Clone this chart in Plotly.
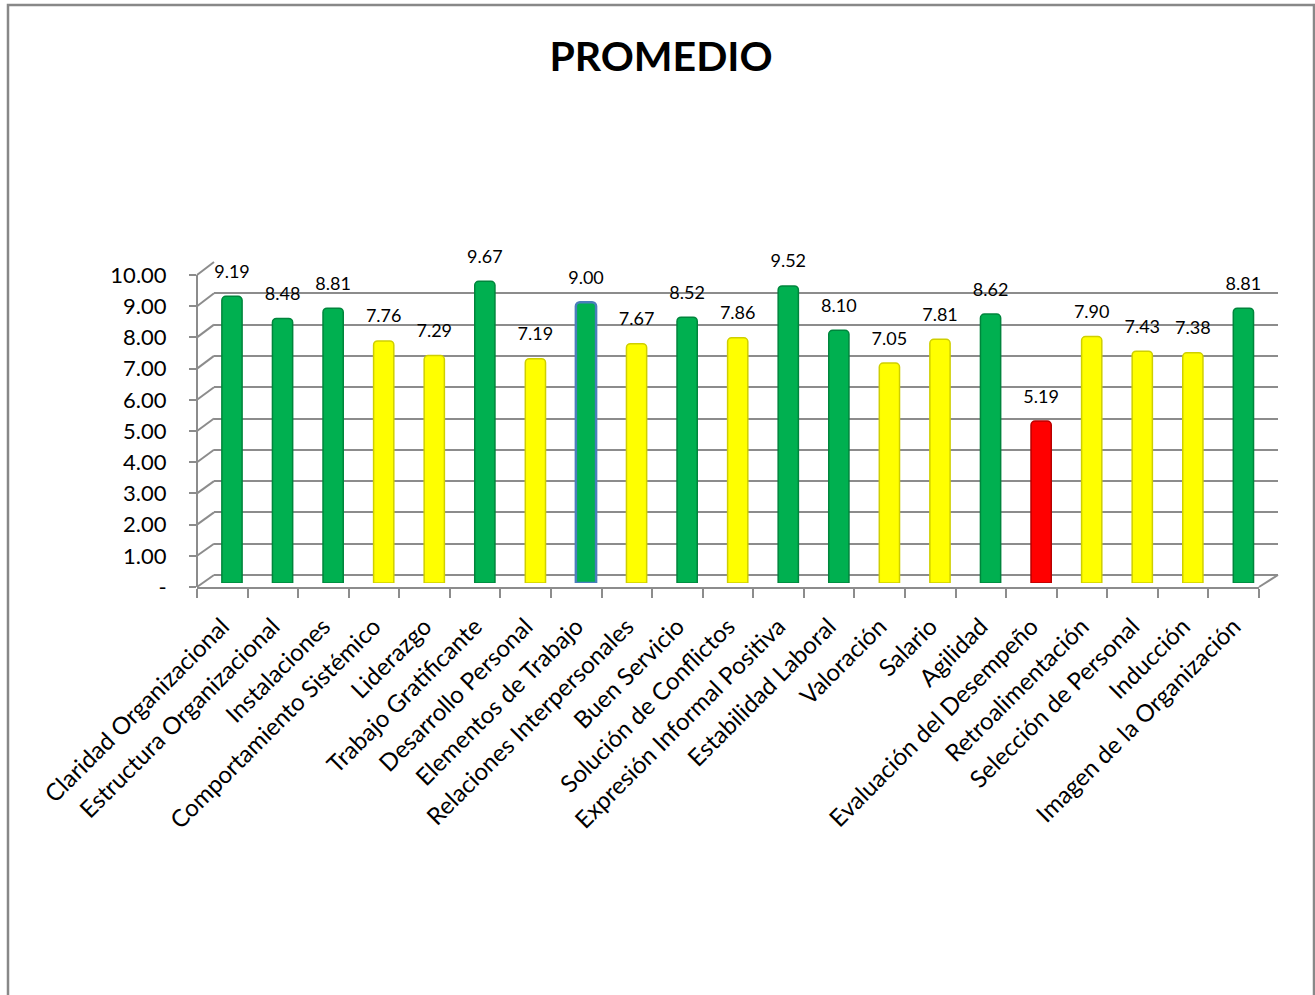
import plotly.graph_objects as go

# ---------------- data ----------------
categories = [
    "Claridad Organizacional", "Estructura Organizacional", "Instalaciones",
    "Comportamiento Sistémico", "Liderazgo", "Trabajo Gratificante",
    "Desarrollo Personal", "Elementos de Trabajo", "Relaciones Interpersonales",
    "Buen Servicio", "Solución de Conflictos", "Expresión Informal Positiva",
    "Estabilidad Laboral", "Valoración", "Salario", "Agilidad",
    "Evaluación del Desempeño", "Retroalimentación", "Selección de Personal",
    "Inducción", "Imagen de la Organización",
]
promedio = [9.19, 8.48, 8.81, 7.76, 7.29, 9.67, 7.19, 9.00, 7.67, 8.52, 7.86,
            9.52, 8.10, 7.05, 7.81, 8.62, 5.19, 7.90, 7.43, 7.38, 8.81]
y_tick_values = [0, 1, 2, 3, 4, 5, 6, 7, 8, 9, 10]
y_tick_labels = ["-", "1.00", "2.00", "3.00", "4.00", "5.00", "6.00", "7.00",
                 "8.00", "9.00", "10.00"]
title_text = "PROMEDIO"
selected_category = "Elementos de Trabajo"

# ---------------- geometry helpers ----------------
W, H = 1315, 995


def px_x(x):
    return x / W


def px_y(y):
    return (H - y) / H


# pixel frames (left, right, y at 0, y at 10)
BACK = dict(l=214, r=1278, y0=575, y10=262)
FRONT = dict(l=197, r=1259, y0=587, y10=275)
BARS = dict(l=206.7, r=1268.7, y0=583, y10=271)
LABELS = dict(y0=583 - 14, y10=271 - 14)

FONT = "Lato, 'Open Sans', sans-serif"
GRID = "#8c8c8c"


def bar_color(v):
    if v >= 8:
        return "#00B050"
    if v >= 7:
        return "#FFFF00"
    return "#FF0000"


def bar_edge(v):
    if v >= 8:
        return "#00853c"
    if v >= 7:
        return "#cfcf00"
    return "#b80000"


fill = [bar_color(v) for v in promedio]
edge = ["#4a7ebb" if c == selected_category else bar_edge(v)
        for c, v in zip(categories, promedio)]
edge_w = [2.5 if c == selected_category else 1.5 for c in categories]

fig = go.Figure()

# subplot 1: back wall grid
fig.add_trace(go.Scatter(x=categories, y=promedio, xaxis="x", yaxis="y",
                         mode="markers", marker=dict(opacity=0),
                         hoverinfo="skip", showlegend=False))
# subplot 2: front axes (tick labels)
fig.add_trace(go.Scatter(x=categories, y=promedio, xaxis="x2", yaxis="y2",
                         mode="markers", marker=dict(opacity=0),
                         hoverinfo="skip", showlegend=False))
# subplot 3: the bars
fig.add_trace(go.Bar(x=categories, y=promedio, xaxis="x3", yaxis="y3",
                     width=0.4,
                     marker=dict(color=fill, line=dict(color=edge, width=edge_w),
                                 cornerradius=4),
                     showlegend=False))
# subplot 4: data labels (slightly raised frame)
fig.add_trace(go.Scatter(x=categories, y=promedio, xaxis="x3", yaxis="y4",
                         mode="text", text=[f"{v:.2f}" for v in promedio],
                         textposition="top center",
                         textfont=dict(family=FONT, size=18, color="#000000"),
                         cliponaxis=False, hoverinfo="skip", showlegend=False))

hidden = dict(showgrid=False, zeroline=False, showline=False,
              showticklabels=False, ticks="", automargin=False)

fig.update_layout(
    template="none",
    width=W, height=H,
    margin=dict(l=0, r=0, t=0, b=0, pad=0),
    paper_bgcolor="white", plot_bgcolor="rgba(0,0,0,0)",
    showlegend=False,
    title=dict(text=f"<b>{title_text}</b>", x=px_x(661), xanchor="center",
               y=px_y(57), yanchor="middle", xref="paper", yref="paper",
               automargin=False,
               font=dict(family=FONT, size=41, color="#000000")),
    xaxis=dict(domain=[px_x(BACK["l"]), px_x(BACK["r"])], anchor="y",
               range=[-0.5, len(categories) - 0.5], **hidden),
    yaxis=dict(domain=[px_y(BACK["y0"]), px_y(BACK["y10"])], anchor="x",
               range=[0, 10], tickvals=y_tick_values, showgrid=True,
               gridcolor=GRID, gridwidth=2, zeroline=True, zerolinecolor=GRID,
               zerolinewidth=2, showline=False, showticklabels=False, ticks="",
               automargin=False),
    xaxis2=dict(domain=[px_x(FRONT["l"]), px_x(FRONT["r"])], anchor="y2",
                range=[-0.5, len(categories) - 0.5], automargin=False,
                showgrid=False, zeroline=False, showline=True,
                linecolor=GRID, linewidth=2, ticks="outside",
                tickson="boundaries", ticklen=9, tickwidth=2, tickcolor=GRID,
                tickangle=-45, ticklabelstandoff=14,
                tickfont=dict(family=FONT, size=24, color="#000000")),
    yaxis2=dict(domain=[px_y(FRONT["y0"]), px_y(FRONT["y10"])],
                anchor="free", position=px_x(FRONT["l"]), automargin=False,
                range=[0, 10], tickvals=y_tick_values, ticktext=y_tick_labels,
                showgrid=False, zeroline=False, showline=True,
                linecolor=GRID, linewidth=2, ticks="outside", ticklen=7,
                tickwidth=2, tickcolor=GRID, ticklabelstandoff=18,
                tickfont=dict(family=FONT, size=22, color="#000000")),
    xaxis3=dict(domain=[px_x(BARS["l"]), px_x(BARS["r"])], anchor="y3",
                range=[-0.5, len(categories) - 0.5], **hidden),
    yaxis3=dict(domain=[px_y(BARS["y0"]), px_y(BARS["y10"])], anchor="x3",
                range=[0, 10], **hidden),
    yaxis4=dict(domain=[px_y(LABELS["y0"]), px_y(LABELS["y10"])],
                anchor="x3", range=[0, 10], **hidden),
)

# side-wall connectors between front tick marks and back gridlines
shapes = []
for v in y_tick_values:
    yf = FRONT["y0"] + (FRONT["y10"] - FRONT["y0"]) * v / 10
    yb = BACK["y0"] + (BACK["y10"] - BACK["y0"]) * v / 10
    shapes.append(dict(type="line", xref="paper", yref="paper",
                       x0=px_x(FRONT["l"]), y0=px_y(yf),
                       x1=px_x(BACK["l"]), y1=px_y(yb),
                       line=dict(color=GRID, width=2), layer="below"))
# right floor edge
shapes.append(dict(type="line", xref="paper", yref="paper",
                   x0=px_x(FRONT["r"]), y0=px_y(FRONT["y0"]),
                   x1=px_x(BACK["r"]), y1=px_y(BACK["y0"]),
                   line=dict(color=GRID, width=2), layer="below"))
# chart border
shapes.append(dict(type="rect", xref="paper", yref="paper",
                   x0=px_x(8), x1=px_x(1314), y0=-0.05, y1=px_y(5),
                   line=dict(color="#888888", width=2.5), layer="above"))
fig.update_layout(shapes=shapes)

fig.write_html("out.html", config={"displayModeBar": False},
               post_script="document.body.style.margin='0';")
